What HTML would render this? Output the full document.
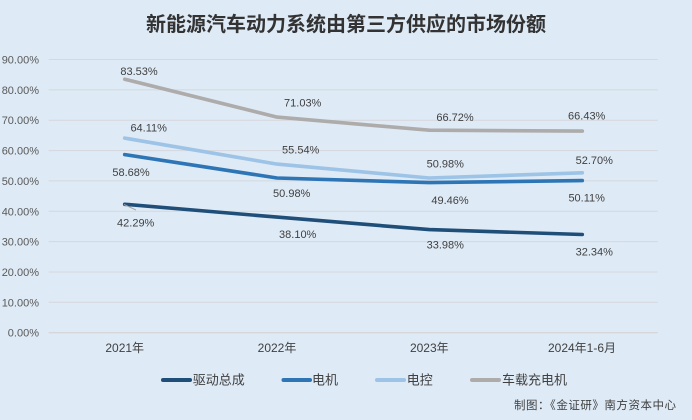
<!DOCTYPE html>
<html>
<head>
<meta charset="utf-8">
<style>
  html, body { margin:0; padding:0; background:#deeaf6; }
  svg { display:block; }
  text { font-family: "Liberation Sans", "Noto Sans CJK SC", sans-serif; }
</style>
</head>
<body>
<svg width="692" height="420" viewBox="0 0 692 420" xmlns="http://www.w3.org/2000/svg">
  <rect x="0" y="0" width="692" height="420" fill="#deeaf6"/>
  <!-- Title -->
  <text x="346" y="31" text-anchor="middle" font-size="20" font-weight="bold" fill="#333333">新能源汽车动力系统由第三方供应的市场份额</text>

  <!-- gridlines -->
  <g stroke="#d5d8dc" stroke-width="1">
    <line x1="48.7" x2="657.7" y1="59.5" y2="59.5"/>
    <line x1="48.7" x2="657.7" y1="89.9" y2="89.9"/>
    <line x1="48.7" x2="657.7" y1="120.2" y2="120.2"/>
    <line x1="48.7" x2="657.7" y1="150.6" y2="150.6"/>
    <line x1="48.7" x2="657.7" y1="180.9" y2="180.9"/>
    <line x1="48.7" x2="657.7" y1="211.3" y2="211.3"/>
    <line x1="48.7" x2="657.7" y1="241.6" y2="241.6"/>
    <line x1="48.7" x2="657.7" y1="272.0" y2="272.0"/>
    <line x1="48.7" x2="657.7" y1="302.3" y2="302.3"/>
  </g>
  <line x1="48.7" x2="657.7" y1="332.7" y2="332.7" stroke="#d0d0d0" stroke-width="1"/>

  <!-- y labels -->
  <g font-size="11" fill="#595959" text-anchor="end">
    <text x="39" y="63.5">90.00%</text>
    <text x="39" y="93.9">80.00%</text>
    <text x="39" y="124.2">70.00%</text>
    <text x="39" y="154.6">60.00%</text>
    <text x="39" y="184.9">50.00%</text>
    <text x="39" y="215.3">40.00%</text>
    <text x="39" y="245.6">30.00%</text>
    <text x="39" y="276.0">20.00%</text>
    <text x="39" y="306.3">10.00%</text>
    <text x="39" y="336.7">0.00%</text>
  </g>

  <!-- x labels -->
  <g font-size="12" fill="#404040" text-anchor="middle">
    <text x="124.7" y="352">2021年</text>
    <text x="277" y="352">2022年</text>
    <text x="429.3" y="352">2023年</text>
    <text x="582" y="352">2024年1-6月</text>
  </g>

  <!-- series lines -->
  <g fill="none" stroke-width="3.6" stroke-linecap="round" stroke-linejoin="round">
    <polyline stroke="#aeabab" points="124.7,79.2 277,117.1 429.3,130.2 582.3,131.1"/>
    <polyline stroke="#9dc3e6" points="124.7,138.1 277,164.1 429.3,178.0 582.3,172.8"/>
    <polyline stroke="#2e75b6" points="124.7,154.6 277,178.0 429.3,182.6 582.3,180.6"/>
    <polyline stroke="#1f4e79" points="124.7,204.3 277,217.1 429.3,229.6 582.3,234.5"/>
  </g>
  <!-- leader line -->
  <line x1="124" y1="204.5" x2="136" y2="210" stroke="#a6a6a6" stroke-width="1"/>

  <!-- data labels -->
  <g font-size="11" fill="#404040" text-anchor="middle">
    <text x="139" y="75">83.53%</text>
    <text x="302.7" y="106.7">71.03%</text>
    <text x="455" y="121">66.72%</text>
    <text x="586.7" y="119.3">66.43%</text>

    <text x="148.7" y="131.7">64.11%</text>
    <text x="300.7" y="153.3">55.54%</text>
    <text x="445.3" y="167.3">50.98%</text>
    <text x="594.3" y="164">52.70%</text>

    <text x="131" y="176">58.68%</text>
    <text x="291.7" y="197">50.98%</text>
    <text x="450" y="204">49.46%</text>
    <text x="586.7" y="201.3">50.11%</text>

    <text x="135.7" y="226.7">42.29%</text>
    <text x="297.7" y="238">38.10%</text>
    <text x="445.3" y="248.3">33.98%</text>
    <text x="594.3" y="255.3">32.34%</text>
  </g>

  <!-- legend -->
  <g stroke-width="4" stroke-linecap="round">
    <line x1="163" y1="380" x2="190" y2="380" stroke="#1f4e79"/>
    <line x1="283.5" y1="380" x2="310" y2="380" stroke="#2e75b6"/>
    <line x1="377" y1="380" x2="404" y2="380" stroke="#9dc3e6"/>
    <line x1="472" y1="380" x2="499" y2="380" stroke="#aeabab"/>
  </g>
  <g font-size="13" fill="#404040">
    <text x="192.7" y="384.7">驱动总成</text>
    <text x="312" y="384.7">电机</text>
    <text x="406.7" y="384.7">电控</text>
    <text x="502" y="384.7">车载充电机</text>
  </g>

  <!-- footer -->
  <text x="514" y="409" font-size="11.5" fill="#404040" textLength="162" lengthAdjust="spacing">制图：《金证研》南方资本中心</text>
</svg>
</body>
</html>
